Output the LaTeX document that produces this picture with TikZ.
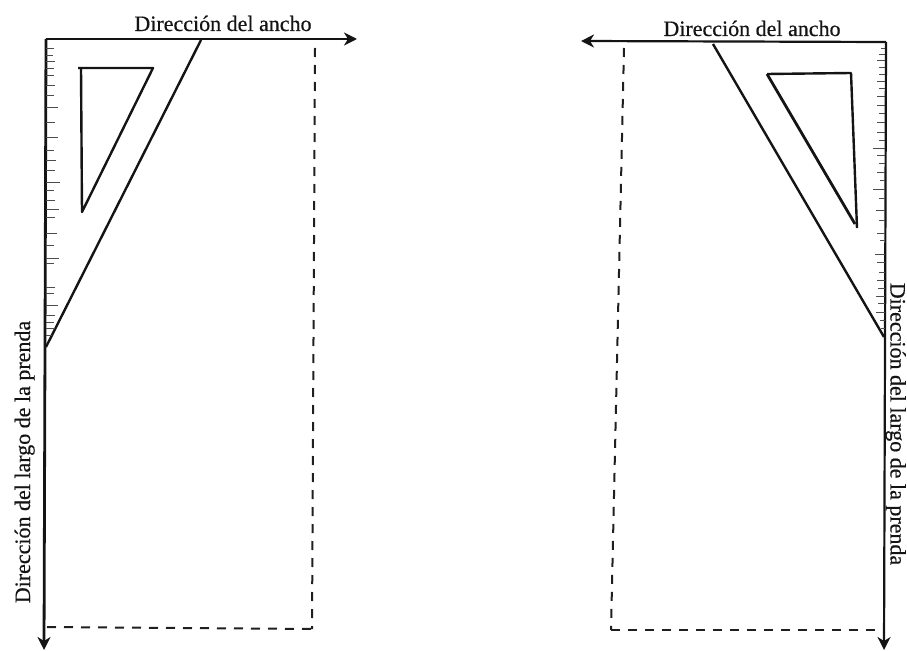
\documentclass[tikz,border=0pt]{standalone}
\usepackage{fontspec}
\setmainfont[FakeBold=0.5]{Liberation Serif}
\usetikzlibrary{arrows.meta}
\tikzset{
  x=1bp,y=-1bp,
  solidline/.style={draw=black!92,line width=2.4bp,line join=round},
  thickline/.style={draw=black!92,line width=2.8bp,line join=round},
  dashline/.style={draw=black!88,line width=2bp,dash pattern=on 9bp off 8bp},
  axisarrow/.style={thickline,-{Stealth[length=13bp,width=13bp,inset=4bp]}},
  tick/.style={draw=black!70,line width=0.9bp},
  lab/.style={inner sep=0pt,font=\fontsize{22bp}{24bp}\selectfont,text=black!92}
}
\begin{document}
\begin{tikzpicture}
\useasboundingbox (0,0) rectangle (907,651);
% left figure
\coordinate (LO) at (46,39);
\coordinate (LA) at (357,39);
\coordinate (LB) at (44,650);
\coordinate (LC) at (201,40);
\coordinate (LD) at (46,347);
\coordinate (LE) at (315,48);
\coordinate (LF) at (312,629);
\coordinate (LG) at (47,627);
\draw[axisarrow] (LO) -- (LA);
\draw[axisarrow] (LO) -- (LB);
\draw[solidline] (LC) -- (LD);
\draw[solidline] (78,68) -- (153,68) -- (82,212) -- (81,68);
\draw[dashline] (LE) -- (LF);
\draw[dashline] (LG) -- (LF);
\foreach \y/\l in {48/8,55/7,61/9,68/8,75/8,85/9,95/8,107/12,122/9,137/12,150/8,160/10,170/9,182/14,190/8,200/9,209/13,217/9,233/11,245/8,258/13,263/8,287/9,293/8,305/12,315/9,322/8,328/9,335/6}
  \draw[tick] (46,\y) -- ++(\l,0);
\node[lab,anchor=base] (Lw) at (223,31) {Dirección del ancho};
\node[lab,anchor=base,rotate=90] (Ll) at (30,462) {Dirección del largo de la prenda};
% right figure
\coordinate (RO) at (886,42);
\coordinate (RA) at (581,41);
\coordinate (RB) at (884,650);
\coordinate (RC) at (713,44);
\coordinate (RD) at (884,337);
\coordinate (RE) at (624,48);
\coordinate (RF) at (611,630);
\coordinate (RG) at (882,630);
\draw[axisarrow,line width=2.2bp] (RO) -- (RA);
\draw[axisarrow,line width=2.2bp] (RO) -- (RB);
\draw[solidline] (RC) -- (RD);
\draw[solidline] (767,74) -- (851,73) -- (857,228);
\draw[solidline,line width=2.8bp] (767,74) -- (855,224);
\draw[dashline] (RE) -- (RF);
\draw[dashline] (RF) -- (RG);
\foreach \y/\l in {48/4,54/6,60/8,67/6,74/6,81/8,88/6,96/8,105/8,113/6,122/8,132/8,140/6,148/12,155/8,163/6,172/8,180/5,189/12,198/6,210/9,220/6,233/8,240/5,254/10,262/8,272/6,280/8,288/7,296/9,303/7,312/9,320/5,328/4}
  \draw[tick] (885,\y) -- ++(-\l,0);
\node[lab,anchor=base] (Rw) at (752,36) {Dirección del ancho};
\node[lab,anchor=base,rotate=-90] (Rl) at (890.5,424) {Dirección del largo de la prenda};
\end{tikzpicture}
\end{document}
